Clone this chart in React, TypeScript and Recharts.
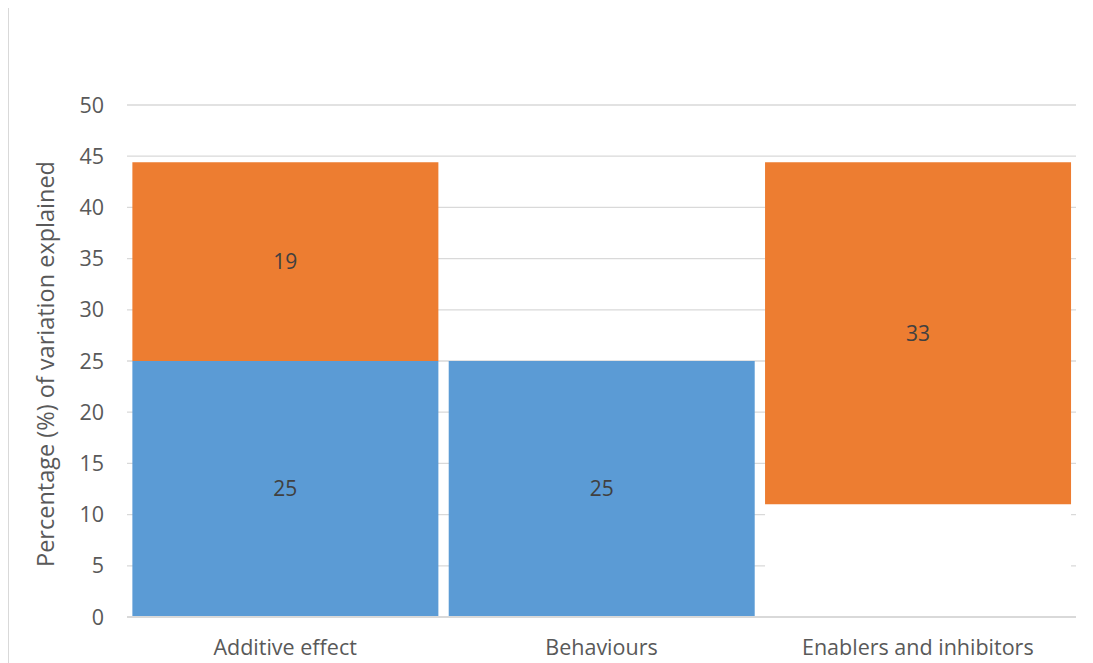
import React from 'react';
import { BarChart, Bar, XAxis, YAxis, CartesianGrid, LabelList, Label } from 'recharts';

// Categories along the x axis
const categories = ['Additive effect', 'Behaviours', 'Enablers and inhibitors'];
// White spacer that lifts the floating bar off the axis
const offsetValues = [0, 0, 11];
// Blue segment (% of variation explained)
const blueValues = [25, 25, 0];
// Orange segment (% of variation explained)
const orangeValues = [19.4, 0, 33.4];
// Y axis ticks
const yTicks = [0, 5, 10, 15, 20, 25, 30, 35, 40, 45, 50];
const yAxisTitle = 'Percentage (%) of variation explained';

const data = categories.map((name, i) => ({
  name,
  offset: offsetValues[i],
  blue: blueValues[i],
  orange: orangeValues[i],
}));

const FONT = '"Open Sans", sans-serif';
const GRID = '#d9d9d9';

const formatLabel = (v: any) => (v ? String(Math.round(Number(v))) : '');

const renderYTitle = (props: any) => {
  const vb = props.viewBox || { x: 0, y: 0, width: 0, height: 0 };
  const cx = vb.x + 36;
  const cy = vb.y + vb.height / 2 + 3;
  return (
    <text
      x={cx}
      y={cy}
      transform={`rotate(-90 ${cx} ${cy})`}
      textAnchor="middle"
      dominantBaseline="central"
      fill="#595959"
      fontSize={23.5}
      fontFamily={FONT}
    >
      {yAxisTitle}
    </text>
  );
};

export default function App() {
  return (
    <div
      style={{
        marginTop: -2,
        width: 1100,
        height: 670,
        borderTop: `1px solid ${GRID}`,
        borderLeft: `1px solid ${GRID}`,
        background: '#ffffff',
        fontFamily: FONT,
      }}
    >
      <BarChart
        width={1084}
        height={656}
        data={data}
        margin={{ top: 98, right: 17, bottom: 0, left: 0 }}
        barCategoryGap="1.7%"
      >
        <CartesianGrid vertical={false} stroke={GRID} strokeWidth={1.3} />
        <XAxis
          dataKey="name"
          height={46}
          tickSize={0}
          tickMargin={23}
          axisLine={{ stroke: GRID, strokeWidth: 2 }}
          tickLine={false}
          tick={{ fill: '#595959', fontSize: 21.5, fontFamily: FONT }}
        />
        <YAxis
          width={118}
          domain={[0, 50]}
          ticks={yTicks}
          interval={0}
          tickSize={0}
          tickMargin={23}
          axisLine={false}
          tickLine={false}
          tick={{ fill: '#595959', fontSize: 21.5, fontFamily: FONT }}
        >
          <Label content={renderYTitle} />
        </YAxis>
        <Bar dataKey="offset" stackId="s" fill="#ffffff" isAnimationActive={false} />
        <Bar dataKey="blue" stackId="s" fill="#5b9bd5" isAnimationActive={false}>
          <LabelList
            dataKey="blue"
            position="center"
            formatter={formatLabel}
            fill="#404040"
            fontSize={21}
            fontFamily={FONT}
          />
        </Bar>
        <Bar dataKey="orange" stackId="s" fill="#ed7d31" isAnimationActive={false}>
          <LabelList
            dataKey="orange"
            position="center"
            formatter={formatLabel}
            fill="#404040"
            fontSize={21}
            fontFamily={FONT}
          />
        </Bar>
      </BarChart>
    </div>
  );
}
